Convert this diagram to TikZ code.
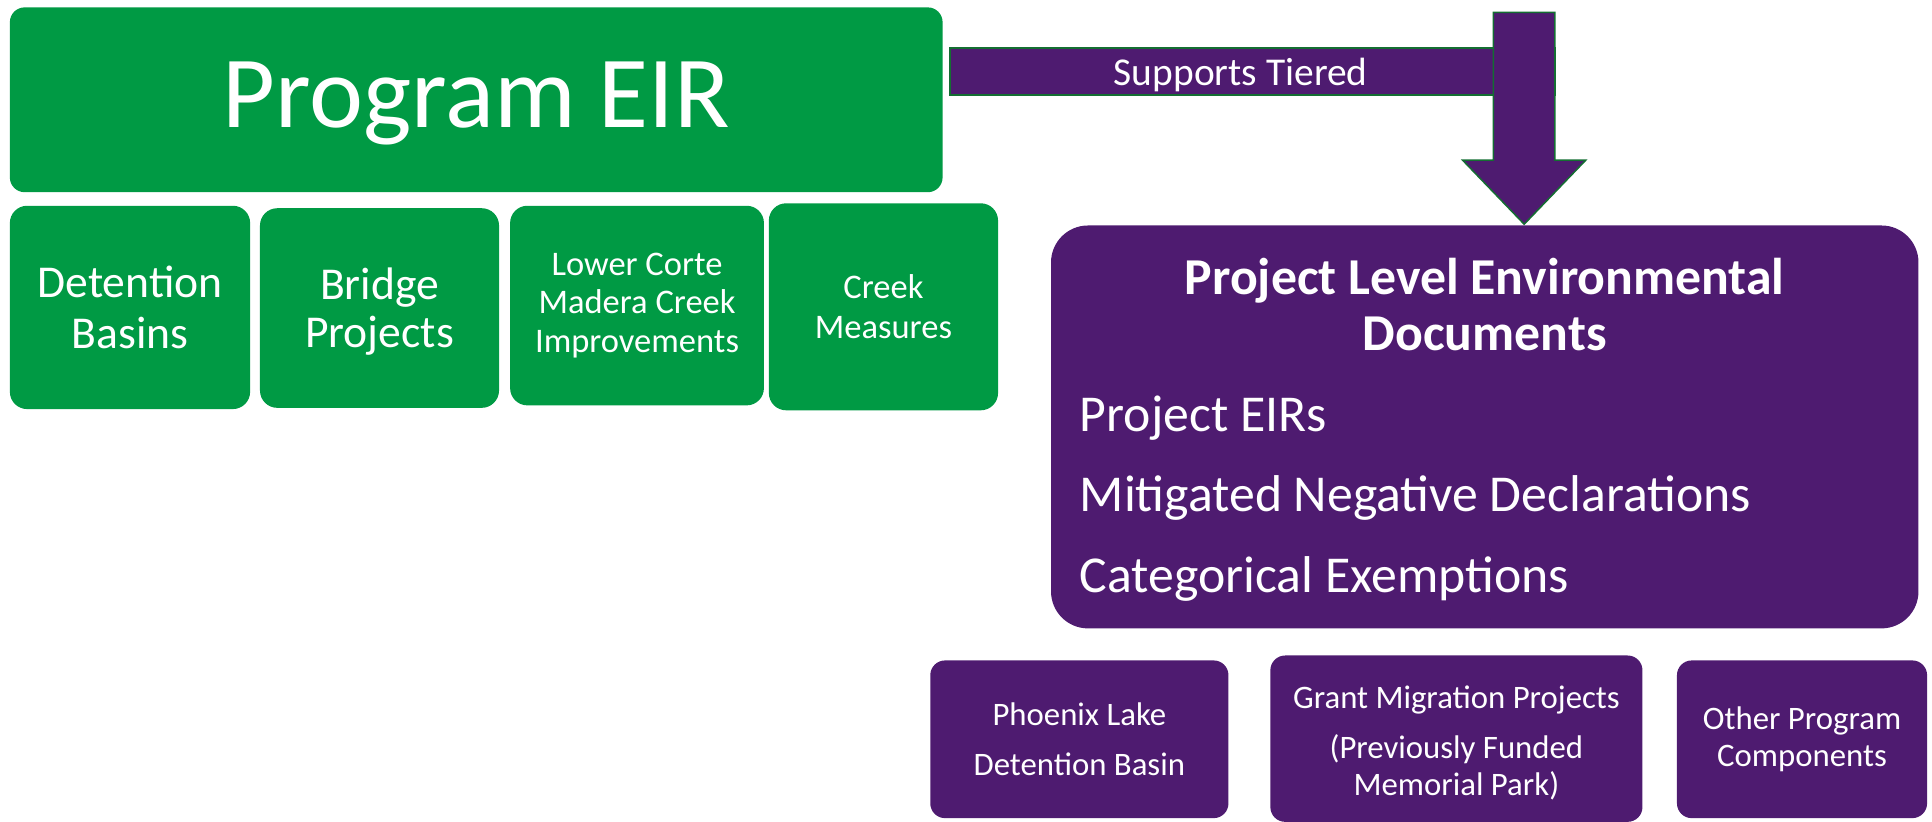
\documentclass[tikz,border=0pt]{standalone}
\usepackage{fontspec}
\setmainfont{Carlito}
\definecolor{eirgreen}{RGB}{0,154,68}
\definecolor{eirpurple}{RGB}{78,27,112}
\definecolor{edgegreen}{RGB}{20,110,50}
\begin{document}
\begin{tikzpicture}[x=0.5pt, y=-0.5pt]
\tikzset{every node/.style={text=white, align=center, inner sep=0pt}}
\tikzset{greenbox/.style={fill=eirgreen, rounded corners=7pt}}
\tikzset{purplebox/.style={fill=eirpurple, rounded corners=6pt, minimum height=64pt, font=\fontsize{13.3}{15}\selectfont}}
\tikzset{itemtext/.style={anchor=base west, font=\fontsize{21}{25}\selectfont}}
\useasboundingbox (0,0) rectangle (1568,667);

\node[greenbox, rounded corners=6pt, minimum width=378.5pt, minimum height=75pt] (EIR) at (386.5,81) {};
\node[font=\fontsize{41.5}{49}\selectfont] (EIRtext) at (386.5,84) {Program EIR};
\node[greenbox, minimum width=97.5pt, minimum height=82.5pt, font=\fontsize{18.5}{20.5}\selectfont] (basins) at (105.5,249.5) {Detention\\Basins};
\node[greenbox, minimum width=97pt, minimum height=81pt, font=\fontsize{18.5}{19.5}\selectfont] (bridge) at (308,250) {};
\node[font=\fontsize{18.5}{19.5}\selectfont] (bridgetext) at (308,253) {Bridge\\Projects};
\node[greenbox, minimum width=103pt, minimum height=81pt, font=\fontsize{14}{15.75}\selectfont] (corte) at (517,248) {Lower Corte\\Madera Creek\\Improvements};
\node[greenbox, minimum width=93pt, minimum height=84pt, font=\fontsize{14}{16}\selectfont] (creek) at (717,249) {Creek\\Measures};

\node[fill=eirpurple, draw=edgegreen, line width=0.6pt, minimum width=245.5pt, minimum height=19pt] (tier) at (1016.5,58) {};
\node[font=\fontsize{16}{19}\selectfont] (tiertext) at (1007,61) {Supports Tiered};
\coordinate (top) at (1237,10);
\coordinate (tip) at (1237,182);
\filldraw[fill=eirpurple, draw=edgegreen, line width=0.6pt] (top) ++(-25,0) -- ++(50,0) -- ++(0,120) -- ++(25,0) -- (tip) -- ++(-50,-52) -- ++(25,0) -- cycle;

\node[fill=eirpurple, rounded corners=15pt, minimum width=352pt, minimum height=163.5pt] (docs) at (1205,346.5) {};
\node[font=\bfseries\fontsize{21}{22.5}\selectfont] (title) at (1205,247) {Project Level Environmental\\Documents};
\node[itemtext] (eirs) at (876,350) {Project EIRs};
\node[itemtext] (mnd) at (876,415) {Mitigated Negative Declarations};
\node[itemtext] (exempt) at (876,481) {Categorical Exemptions};

\node[purplebox, minimum width=121pt] (phoenix) at (876,600) {Phoenix Lake\\[5.5pt]Detention Basin};
\node[purplebox, minimum width=151pt, minimum height=67.5pt] (grant) at (1182,599.5) {};
\node[font=\fontsize{13.3}{15}\selectfont] (granttext) at (1182,603) {Grant Migration Projects\\[5.5pt](Previously Funded\\Memorial Park)};
\node[purplebox, minimum width=101.5pt] (other) at (1462.5,600) {Other Program\\Components};
\end{tikzpicture}
\end{document}
